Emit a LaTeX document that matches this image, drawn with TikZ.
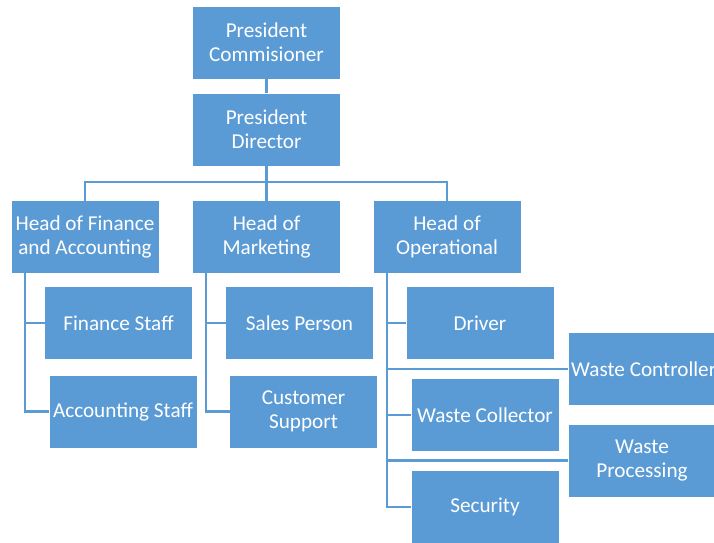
\documentclass[tikz,border=0pt]{standalone}
\usepackage{fontspec}
\setmainfont{Carlito}
\definecolor{boxblue}{HTML}{5B9BD5}
\begin{document}
\begin{tikzpicture}[x=1pt,y=-1pt,
  unit/.style={fill=boxblue, draw=none, text=white, align=center,
    minimum width=147pt, minimum height=72pt, inner sep=0pt,
    font=\fontsize{21.2}{24}\selectfont},
  link/.style={draw=boxblue, line width=2.8pt}]
\useasboundingbox (0,0) rectangle (714,542);
\begin{scope}
\clip (0,0) rectangle (714,542);
% top of the hierarchy
\node[unit] (pc) at (266.5,42.5) {President\\Commisioner};
\node[unit] (pd) at (266.5,129.5) {President\\Director};
% department heads
\node[unit] (hf) at (85,237) {Head of Finance\\and Accounting};
\node[unit] (hm) at (266.5,237) {Head of\\Marketing};
\node[unit] (ho) at (447,237) {Head of\\Operational};
% finance staff
\node[unit] (fs) at (118.5,323) {Finance Staff};
\node[unit] (as) at (123,411.5) {Accounting Staff};
% marketing staff
\node[unit] (sp) at (299.5,323) {Sales Person};
\node[unit] (cs) at (303.5,411.5) {Customer\\Support};
% operational staff
\node[unit] (dr) at (480,323) {Driver};
\node[unit] (wcol) at (485,415) {Waste Collector};
\node[unit] (sec) at (485,507) {Security};
\node[unit] (wctl) at (642,369) {};
\node[text=white, anchor=west, inner sep=0pt, font=\fontsize{21.2}{24}\selectfont] (wctltext) at (571,369) {Waste Controller};
\node[unit] (wpro) at (642,460.5) {Waste\\Processing};

% connectors
\coordinate (bus) at (266.5,182);
\draw[link] (pc.south) -- (pd.north);
\draw[link] (pd.south) -- (bus);
\draw[link] (hf.north) |- (bus) -| (ho.north);
\draw[link] (bus) -- (hm.north);

\coordinate (fv) at (25,0);
\draw[link] (hf.south -| fv) |- (as.west);
\draw[link] (fv |- fs.west) -- (fs.west);

\coordinate (mv) at (206,0);
\draw[link] (hm.south -| mv) |- (cs.west);
\draw[link] (mv |- sp.west) -- (sp.west);

\coordinate (ov) at (387,0);
\draw[link] (ho.south -| ov) |- (sec.west);
\draw[link] (ov |- dr.west) -- (dr.west);
\draw[link] (ov |- wcol.west) -- (wcol.west);
\draw[link] (ov |- wctl.west) -- (wctl.west);
\draw[link] (ov |- wpro.west) -- (wpro.west);
\end{scope}
\end{tikzpicture}
\end{document}
